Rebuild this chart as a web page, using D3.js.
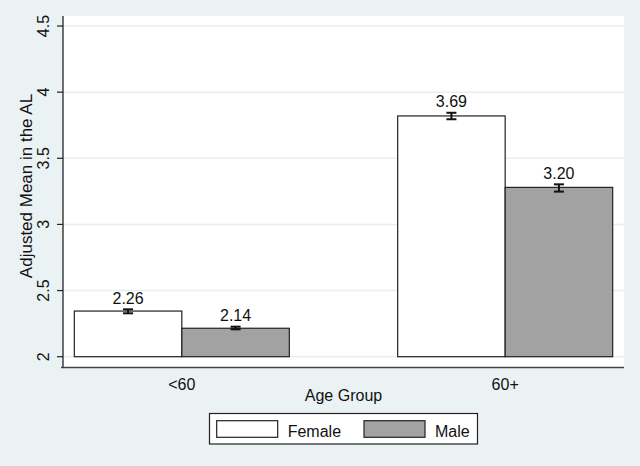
<!DOCTYPE html>
<html>
<head>
<meta charset="utf-8">
<script src="https://cdn.jsdelivr.net/npm/d3@7"></script>
<style>
  html, body { margin: 0; padding: 0; background: #eaf2f4; }
  svg { display: block; }
  text { font-family: "Liberation Sans", Arial, sans-serif; fill: #111; }
</style>
</head>
<body>
<svg id="chart" width="640" height="466"></svg>
<script>
// ---- data ----
const groups = ["<60", "60+"];
const sexes = ["Female", "Male"];
const femaleMeans = [2.345, 3.82];
const maleMeans = [2.215, 3.28];
const femaleLow = [2.328, 3.795];
const femaleHigh = [2.358, 3.844];
const maleLow = [2.207, 3.248];
const maleHigh = [2.227, 3.303];
const femaleLabels = ["2.26", "3.69"];
const maleLabels = ["2.14", "3.20"];
const yTicks = [2, 2.5, 3, 3.5, 4, 4.5];
const yTickLabels = ["2", "2.5", "3", "3.5", "4", "4.5"];
const fills = ["#ffffff", "#a2a2a2"];

const rows = [];
groups.forEach((g, i) => {
  rows.push({group: g, sex: "Female", mean: femaleMeans[i], lo: femaleLow[i], hi: femaleHigh[i], label: femaleLabels[i]});
  rows.push({group: g, sex: "Male", mean: maleMeans[i], lo: maleLow[i], hi: maleHigh[i], label: maleLabels[i]});
});

// ---- layout ----
const svg = d3.select("#chart");
const plot = {left: 63, right: 624, top: 16, bottom: 367.5};

const x = d3.scaleBand().domain(groups).range([plot.left, plot.right])
  .paddingInner(0.335).paddingOuter(0.035);
const xs = d3.scaleBand().domain(sexes).range([0, x.bandwidth()]);
const y = d3.scaleLinear().domain([2, 4.5]).range([356.7, 26]);
const color = d3.scaleOrdinal().domain(sexes).range(fills);

// plot region
svg.append("rect").attr("x", plot.left).attr("y", plot.top)
  .attr("width", plot.right - plot.left).attr("height", plot.bottom - plot.top)
  .attr("fill", "#ffffff");

// gridlines
svg.append("g").selectAll("line").data(yTicks).join("line")
  .attr("x1", plot.left).attr("x2", plot.right)
  .attr("y1", d => y(d)).attr("y2", d => y(d))
  .attr("stroke", "#e4eff3").attr("stroke-width", 1.5);

// bars
const bars = svg.append("g");
bars.selectAll("rect").data(rows).join("rect")
  .attr("x", d => x(d.group) + xs(d.sex))
  .attr("y", d => y(d.mean))
  .attr("width", xs.bandwidth())
  .attr("height", d => y(2) - y(d.mean))
  .attr("fill", d => color(d.sex))
  .attr("stroke", "#222").attr("stroke-width", 1.2);

// error bars
const eb = svg.append("g").attr("stroke", "#111").attr("stroke-width", 2);
rows.forEach(d => {
  const cx = x(d.group) + xs(d.sex) + xs.bandwidth() / 2;
  eb.append("line").attr("x1", cx).attr("x2", cx).attr("y1", y(d.lo)).attr("y2", y(d.hi));
  eb.append("line").attr("x1", cx - 5).attr("x2", cx + 5).attr("y1", y(d.lo)).attr("y2", y(d.lo));
  eb.append("line").attr("x1", cx - 5).attr("x2", cx + 5).attr("y1", y(d.hi)).attr("y2", y(d.hi));
});

// value labels
svg.append("g").selectAll("text").data(rows).join("text")
  .attr("x", d => x(d.group) + xs(d.sex) + xs.bandwidth() / 2)
  .attr("y", d => y(d.hi) - 5.5)
  .attr("text-anchor", "middle")
  .attr("font-size", 16)
  .text(d => d.label);

// y axis
const yAxis = svg.append("g");
yAxis.append("line").attr("x1", plot.left).attr("x2", plot.left)
  .attr("y1", plot.top).attr("y2", plot.bottom).attr("stroke", "#222").attr("stroke-width", 1.3);
yAxis.selectAll(".tick").data(yTicks).join("line")
  .attr("x1", plot.left - 6).attr("x2", plot.left)
  .attr("y1", d => y(d)).attr("y2", d => y(d))
  .attr("stroke", "#222").attr("stroke-width", 1.2);
yAxis.selectAll("text").data(yTicks).join("text")
  .attr("transform", d => `translate(48.5,${y(d)}) rotate(-90)`)
  .attr("text-anchor", "middle")
  .attr("font-size", 16)
  .text((d, i) => yTickLabels[i]);

svg.append("text")
  .attr("transform", `translate(31.5,186) rotate(-90)`)
  .attr("text-anchor", "middle")
  .attr("font-size", 17)
  .text("Adjusted Mean in the AL");

// x axis
svg.append("line").attr("x1", plot.left - 2).attr("x2", plot.right)
  .attr("y1", plot.bottom).attr("y2", plot.bottom)
  .attr("stroke", "#444").attr("stroke-width", 1.5);
svg.append("g").selectAll("text").data(groups).join("text")
  .attr("x", d => x(d) + x.bandwidth() / 2)
  .attr("y", 389.5)
  .attr("text-anchor", "middle")
  .attr("font-size", 16)
  .text(d => d);
svg.append("text")
  .attr("x", (plot.left + plot.right) / 2)
  .attr("y", 400.7)
  .attr("text-anchor", "middle")
  .attr("font-size", 16)
  .text("Age Group");

// legend
const lg = svg.append("g");
lg.append("rect").attr("x", 209.5).attr("y", 413.5).attr("width", 268).attr("height", 30.5)
  .attr("fill", "#ffffff").attr("stroke", "#222").attr("stroke-width", 1.2);
const legendX = [216.7, 364];
sexes.forEach((s, i) => {
  lg.append("rect").attr("x", legendX[i]).attr("y", 420.7).attr("width", 61).attr("height", 16.6)
    .attr("fill", color(s)).attr("stroke", "#222").attr("stroke-width", 1.2);
  lg.append("text").attr("x", legendX[i] + 71).attr("y", 436.5)
    .attr("font-size", 16).text(s);
});
</script>
</body>
</html>
